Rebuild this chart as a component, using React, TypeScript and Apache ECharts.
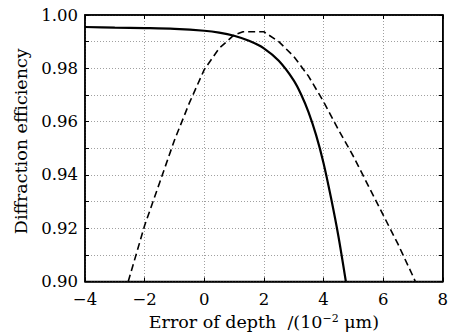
import React, { useEffect, useRef } from "react";
import * as echarts from "echarts";

const solidX = [-4, -3, -2, -1, 0, 0.5, 1, 1.5, 2, 2.5, 3, 3.25, 3.5, 3.75, 4, 4.25, 4.5, 4.75];
const solidY = [0.9955, 0.9953, 0.9951, 0.9948, 0.9941, 0.9934, 0.9922, 0.9903, 0.9875, 0.9828, 0.9755, 0.9702, 0.9635, 0.955, 0.9445, 0.9315, 0.917, 0.9];

const dashX = [-2.55, -2, -1.5, -1, -0.5, 0, 0.5, 1, 1.3, 2, 2.5, 3, 3.5, 4, 4.5, 5, 5.5, 6, 6.5, 7, 7.08];
const dashY = [0.9, 0.921, 0.937, 0.953, 0.967, 0.9795, 0.9875, 0.9925, 0.9937, 0.9937, 0.99, 0.9845, 0.977, 0.9675, 0.957, 0.947, 0.936, 0.925, 0.914, 0.902, 0.9];

const xTicks = [-4, -2, 0, 2, 4, 6, 8];
const yTicks = [0.9, 0.92, 0.94, 0.96, 0.98, 1.0];

const FONT = "DejaVu Serif";

export default function App() {
  const ref = useRef<HTMLDivElement>(null);
  useEffect(() => {
    if (!ref.current) return;
    const chart = echarts.init(ref.current, null, { renderer: "svg" });
    const gridLine = { lineStyle: { color: "#888", type: [1, 2], width: 0.8 } };
    const frameLine = { show: true, onZero: false, lineStyle: { color: "#000", width: 1.5 } };
    chart.setOption({
      animation: false,
      backgroundColor: "#fff",
      grid: { left: 85, right: 8, top: 15, bottom: 54, show: true, borderColor: "#000", borderWidth: 1.5 },
      xAxis: [
        {
          type: "value",
          min: xTicks[0],
          max: xTicks[xTicks.length - 1],
          interval: 2,
          axisLine: frameLine,
          axisTick: { show: true, inside: true, length: 4, lineStyle: { color: "#000" } },
          axisLabel: {
            color: "#000",
            fontFamily: FONT,
            fontSize: 16.5,
            margin: 9,
            formatter: (v: number) => (v < 0 ? "\u2212" + Math.abs(v) : String(v)),
          },
          splitLine: { show: true, ...gridLine },
          name: "Error of depth  /(10{sup|\u22122} \u03bcm)",
          nameLocation: "middle",
          nameGap: 31,
          nameTextStyle: {
            color: "#000",
            fontFamily: FONT,
            fontSize: 17.5,
            rich: { sup: { fontFamily: FONT, fontSize: 11, verticalAlign: "top", padding: [0, 0, 8, 0], color: "#000" } },
          },
        },
        {
          type: "value",
          position: "top",
          min: xTicks[0],
          max: xTicks[xTicks.length - 1],
          interval: 2,
          axisLine: frameLine,
          axisTick: { show: true, inside: true, length: 4, lineStyle: { color: "#000" } },
          axisLabel: { show: false },
          splitLine: { show: false },
        },
      ],
      yAxis: [
        {
          type: "value",
          min: yTicks[0],
          max: yTicks[yTicks.length - 1],
          interval: 0.02,
          axisLine: frameLine,
          axisTick: { show: true, inside: true, length: 4, lineStyle: { color: "#000" } },
          minorTick: { show: true, splitNumber: 2, length: 4 },
          minorSplitLine: { show: true, ...gridLine },
          axisLabel: {
            color: "#000",
            fontFamily: FONT,
            fontSize: 16.5,
            margin: 7,
            formatter: (v: number) => v.toFixed(2),
          },
          splitLine: { show: true, ...gridLine },
          name: "Diffraction efficiency",
          nameLocation: "middle",
          nameGap: 54,
          nameTextStyle: { color: "#000", fontFamily: FONT, fontSize: 17.5, padding: [0, 0, 0, 14] },
        },
        {
          type: "value",
          position: "right",
          min: yTicks[0],
          max: yTicks[yTicks.length - 1],
          interval: 0.02,
          axisLine: frameLine,
          axisTick: { show: true, inside: true, length: 4, lineStyle: { color: "#000" } },
          minorTick: { show: true, splitNumber: 2, length: 4, lineStyle: { color: "#000" } },
          axisLabel: { show: false },
          splitLine: { show: false },
        },
      ],
      series: [
        {
          type: "line",
          data: solidX.map((x, i) => [x, solidY[i]]),
          showSymbol: false,
          smooth: 0.3,
          lineStyle: { color: "#000", width: 2.2 },
          z: 3,
        },
        {
          type: "line",
          data: dashX.map((x, i) => [x, dashY[i]]),
          showSymbol: false,
          lineStyle: { color: "#000", width: 1.6, type: [7, 4] },
          z: 3,
        },
      ],
    });
    return () => chart.dispose();
  }, []);
  return <div ref={ref} style={{ position: "fixed", left: 0, top: 0, width: 451, height: 336 }} />;
}
